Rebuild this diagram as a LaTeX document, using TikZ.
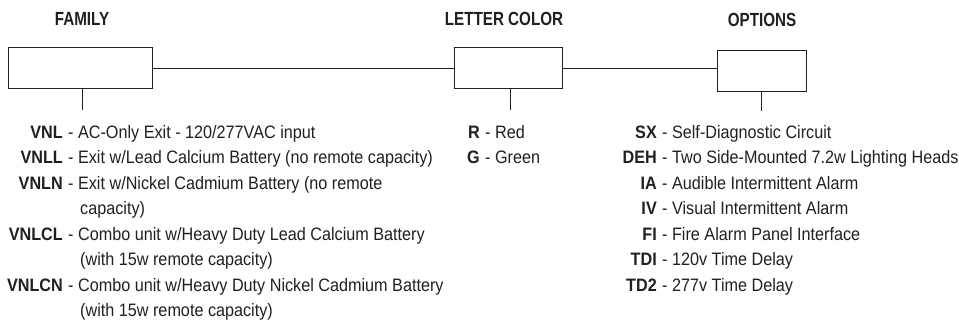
\documentclass[tikz,border=0pt]{standalone}
\usepackage{fontspec}
\setmainfont[FakeStretch=0.9]{Liberation Sans}
\newfontfamily\headfont[FakeStretch=0.8]{Liberation Sans}
\definecolor{ink}{HTML}{231F20}
\begin{document}
\begin{tikzpicture}[x=1pt,y=-1pt,color=ink,
    box/.style={draw,line width=1pt,inner sep=0pt,minimum height=41pt},
    head/.style={inner sep=0pt,font=\headfont\fontsize{19}{19}\selectfont\bfseries},
    key/.style={anchor=base east,inner sep=0pt,font=\fontsize{18}{18}\selectfont\bfseries},
    desc/.style={anchor=base west,inner sep=0pt,font=\fontsize{18}{18}\selectfont}]
  \useasboundingbox (0,0) rectangle (959,329);
  % headings
  \node[head] (famhead) at (82,19) {FAMILY};
  \node[head] (colhead) at (504,19) {LETTER COLOR};
  \node[head] (opthead) at (762,20) {OPTIONS};
  % boxes
  \node[box,minimum width=144pt] (fam) at (80,68.5) {};
  \node[box,minimum width=108pt] (col) at (508,68.5) {};
  \node[box,minimum width=89pt] (opt) at (761.5,71.5) {};
  \coordinate (famend) at (82,110);
  \coordinate (colend) at (510,110);
  \coordinate (optend) at (761.5,111);
  \begin{scope}[line width=1pt]
    \draw (fam.east) -- (col.west);
    \draw (col.east) -- (col.east -| opt.west);
    \draw (fam.south -| famend) -- (famend);
    \draw (col.south -| colend) -- (colend);
    \draw (opt.south) -- (optend);
  \end{scope}
  % family
  \node[key] (vnl) at (63,138) {VNL};
  \node[desc] (vnld) at (68,138) {- AC-Only Exit - 120/277VAC input};
  \node[key] (vnll) at (63,163.5) {VNLL};
  \node[desc] (vnlld) at (68,163.5) {- Exit w/Lead Calcium Battery (no remote capacity)};
  \node[key] (vnln) at (63,189) {VNLN};
  \node[desc] (vnlnd) at (68,189) {- Exit w/Nickel Cadmium Battery (no remote};
  \node[desc] (vnlnd2) at (80,214.5) {capacity)};
  \node[key] (vnlcl) at (63,240) {VNLCL};
  \node[desc] (vnlcld) at (68,240) {- Combo unit w/Heavy Duty Lead Calcium Battery};
  \node[desc] (vnlcld2) at (80,265.5) {(with 15w remote capacity)};
  \node[key] (vnlcn) at (63,291) {VNLCN};
  \node[desc] (vnlcnd) at (68,291) {- Combo unit w/Heavy Duty Nickel Cadmium Battery};
  \node[desc] (vnlcnd2) at (80,316.5) {(with 15w remote capacity)};
  % letter color
  \node[key] (red) at (480,138) {R};
  \node[desc] (redd) at (485,138) {- Red};
  \node[key] (green) at (480,163.5) {G};
  \node[desc] (greend) at (485,163.5) {- Green};
  % options
  \node[key] (sx) at (657,138) {SX};
  \node[desc] (sxd) at (662,138) {- Self-Diagnostic Circuit};
  \node[key] (deh) at (657,163.5) {DEH};
  \node[desc] (dehd) at (662,163.5) {- Two Side-Mounted 7.2w Lighting Heads};
  \node[key] (ia) at (657,189) {IA};
  \node[desc] (iad) at (662,189) {- Audible Intermittent Alarm};
  \node[key] (iv) at (657,214.5) {IV};
  \node[desc] (ivd) at (662,214.5) {- Visual Intermittent Alarm};
  \node[key] (fi) at (657,240) {FI};
  \node[desc] (fid) at (662,240) {- Fire Alarm Panel Interface};
  \node[key] (tdi) at (657,265.5) {TDI};
  \node[desc] (tdid) at (662,265.5) {- 120v Time Delay};
  \node[key] (tdt) at (657,291) {TD2};
  \node[desc] (tdtd) at (662,291) {- 277v Time Delay};
\end{tikzpicture}
\end{document}
